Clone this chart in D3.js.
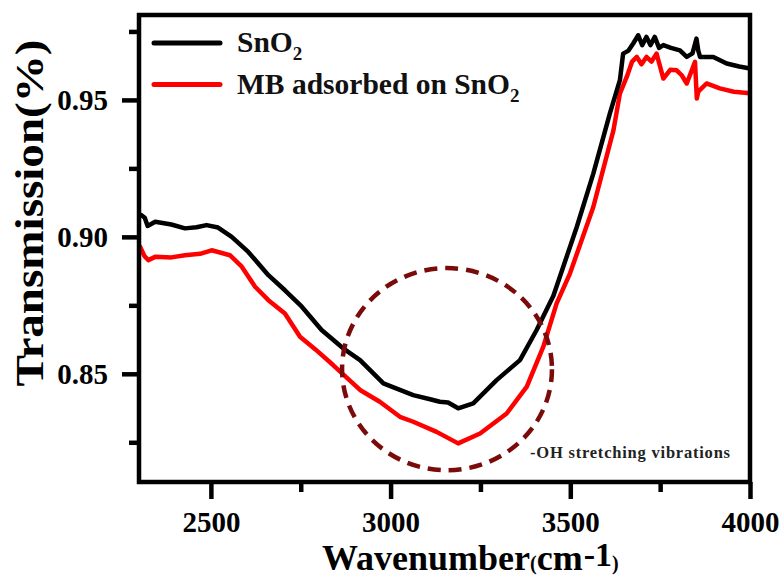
<!DOCTYPE html>
<html>
<head>
<meta charset="utf-8">
<script src="https://cdn.jsdelivr.net/npm/d3@7"></script>
<style>
  body { margin: 0; background: #fff; }
  svg { display: block; }
  svg text { font-family: 'Liberation Serif', 'Times New Roman', Times, serif !important; font-weight: bold; }
</style>
</head>
<body>
<svg id="chart"></svg>
<script>
// wavenumber (cm-1) / transmission
const waveSnO2 = [2300, 2307, 2316, 2324, 2345, 2390, 2428, 2460, 2488, 2520, 2558, 2604, 2660, 2706, 2753, 2808, 2868, 2915, 2980, 3063, 3110, 3137, 3160, 3188, 3230, 3295, 3360, 3406, 3453, 3518, 3564, 3610, 3638, 3647, 3662, 3675, 3689, 3700, 3712, 3723, 3735, 3747, 3759, 3780, 3805, 3824, 3840, 3851, 3856, 3861, 3898, 3935, 3970, 4000];
const transSnO2 = [0.9082, 0.9079, 0.9070, 0.9040, 0.9055, 0.9045, 0.9031, 0.9035, 0.9043, 0.9034, 0.9000, 0.8945, 0.8860, 0.8805, 0.8745, 0.8660, 0.8593, 0.8550, 0.8465, 0.8422, 0.8407, 0.8398, 0.8395, 0.8374, 0.8392, 0.8477, 0.8550, 0.8659, 0.8785, 0.9036, 0.9231, 0.9450, 0.9572, 0.9669, 0.9680, 0.9706, 0.9736, 0.9700, 0.9730, 0.9700, 0.9730, 0.9690, 0.9700, 0.9690, 0.9681, 0.9657, 0.9670, 0.9724, 0.9680, 0.9657, 0.9657, 0.9633, 0.9622, 0.9615];

const waveMB = [2300, 2303, 2315, 2326, 2345, 2390, 2428, 2470, 2502, 2553, 2586, 2623, 2660, 2706, 2748, 2790, 2840, 2915, 2970, 3026, 3063, 3128, 3188, 3249, 3323, 3379, 3425, 3462, 3499, 3564, 3620, 3638, 3657, 3672, 3685, 3698, 3712, 3726, 3740, 3759, 3778, 3796, 3810, 3824, 3847, 3852, 3856, 3879, 3916, 3955, 4000];
const transMB = [0.8968, 0.8964, 0.8930, 0.8915, 0.8927, 0.8925, 0.8933, 0.8938, 0.8951, 0.8933, 0.8891, 0.8818, 0.8769, 0.8720, 0.8635, 0.8590, 0.8532, 0.8441, 0.8398, 0.8343, 0.8325, 0.8288, 0.8246, 0.8282, 0.8355, 0.8453, 0.8599, 0.8757, 0.8866, 0.9109, 0.9389, 0.9523, 0.9584, 0.9640, 0.9657, 0.9630, 0.9657, 0.9640, 0.9669, 0.9578, 0.9610, 0.9608, 0.9590, 0.9560, 0.9639, 0.9505, 0.9530, 0.9560, 0.9542, 0.9530, 0.9524];

const xMajor = [2500, 3000, 3500, 4000];
const xMinor = [2750, 3250, 3750];
const yMajor = [0.85, 0.90, 0.95];
const yMinor = [0.825, 0.875, 0.925, 0.975];

const seriesNames = ['SnO', 'MB adsorbed on SnO'];
const seriesColors = ['#000000', '#ff0000'];

// -OH band annotation (data units)
const ohCenter = [3157, 0.8517];
const ohRadius = [292, 0.0369];
const ohLabel = '-OH stretching vibrations';
const ohLabelAt = [3388, 0.8192];

const FONT = "'Liberation Serif', 'Times New Roman', Times, serif";

const width = 781, height = 579;
const margin = { top: 15, right: 31, bottom: 97, left: 139 };

const svg = d3.select('#chart').attr('width', width).attr('height', height)
  .attr('font-family', FONT);

const x = d3.scaleLinear().domain([2300, 4000]).range([margin.left, width - margin.right]);
const y = d3.scaleLinear().domain([0.8105, 0.981]).range([height - margin.bottom, margin.top]);

const plotG = svg.append('g');

const line = d3.line().x(d => x(d[0])).y(d => y(d[1]));

const series = [
  d3.zip(waveSnO2, transSnO2),
  d3.zip(waveMB, transMB)
];

// red drawn first so the black sits on top where they overlap
[1, 0].forEach(i => {
  plotG.append('path')
    .datum(series[i])
    .attr('fill', 'none')
    .attr('stroke', seriesColors[i])
    .attr('stroke-width', 4.5)
    .attr('stroke-linejoin', 'round')
    .attr('d', line);
});

// dashed ellipse around the OH band
plotG.append('ellipse')
  .attr('cx', x(ohCenter[0]))
  .attr('cy', y(ohCenter[1]))
  .attr('rx', x(ohCenter[0] + ohRadius[0]) - x(ohCenter[0]))
  .attr('ry', y(ohCenter[1] - ohRadius[1]) - y(ohCenter[1]))
  .attr('fill', 'none')
  .attr('stroke', '#7b0a0a')
  .attr('stroke-width', 4.5)
  .attr('stroke-dasharray', '13,8');

plotG.append('text')
  .attr('x', x(ohLabelAt[0]))
  .attr('y', y(ohLabelAt[1]))
  .attr('font-size', 16.5)
  .attr('fill', '#222')
  .attr('textLength', 200)
  .text(ohLabel);

// axes
const styleAxis = g => {
  g.attr('font-family', FONT);
  g.select('.domain').remove();
  g.selectAll('.tick line').attr('stroke', '#000').attr('stroke-width', 4.5);
  g.selectAll('.tick text').attr('font-size', 29).attr('fill', '#000')
    .attr('font-family', FONT).attr('font-weight', 'bold');
};

svg.append('g')
  .attr('transform', `translate(0,${height - margin.bottom})`)
  .call(d3.axisBottom(x).tickValues(xMajor).tickSize(17).tickPadding(12).tickFormat(d3.format('d')))
  .call(styleAxis);
svg.append('g')
  .attr('transform', `translate(0,${height - margin.bottom})`)
  .call(d3.axisBottom(x).tickValues(xMinor).tickSize(10).tickFormat(''))
  .call(styleAxis);

svg.append('g')
  .attr('transform', `translate(${margin.left},0)`)
  .call(d3.axisLeft(y).tickValues(yMajor).tickSize(17).tickPadding(14).tickFormat(d3.format('.2f')))
  .call(styleAxis);
svg.append('g')
  .attr('transform', `translate(${margin.left},0)`)
  .call(d3.axisLeft(y).tickValues(yMinor).tickSize(10).tickFormat(''))
  .call(styleAxis);

// frame
svg.append('rect')
  .attr('x', margin.left)
  .attr('y', margin.top)
  .attr('width', width - margin.left - margin.right)
  .attr('height', height - margin.top - margin.bottom)
  .attr('fill', 'none')
  .attr('stroke', '#000')
  .attr('stroke-width', 4.5);

// legend
const legend = svg.append('g');
seriesNames.forEach((name, i) => {
  const ly = 43 + i * 41.5;
  legend.append('line')
    .attr('x1', 154).attr('x2', 220)
    .attr('y1', ly).attr('y2', ly)
    .attr('stroke', seriesColors[i])
    .attr('stroke-width', 5)
    .attr('stroke-linecap', 'round');
  const t = legend.append('text')
    .attr('x', 237)
    .attr('y', ly + 9)
    .attr('font-size', 29.5)
    .attr('fill', '#111');
  t.append('tspan').text(name);
  t.append('tspan').attr('font-size', 19).attr('dy', 8).text('2');
});

// axis titles
svg.append('text')
  .attr('transform', `translate(43,${213})rotate(-90)`)
  .attr('text-anchor', 'middle')
  .attr('font-size', 41)
  .attr('textLength', 347)
  .attr('lengthAdjust', 'spacingAndGlyphs')
  .attr('fill', '#000')
  .text('Transmission(%)');

const xt = svg.append('text')
  .attr('x', 322)
  .attr('y', 570)
  .attr('font-size', 36)
  .attr('fill', '#000');
xt.append('tspan').text('Wavenumber');
xt.append('tspan').attr('font-size', 20).text('(');
xt.append('tspan').text('cm');
xt.append('tspan').attr('font-size', 34).attr('dy', -4).attr('dx', 1).text('-1');
xt.append('tspan').attr('font-size', 20).attr('dy', 4).text(')');
</script>
</body>
</html>
